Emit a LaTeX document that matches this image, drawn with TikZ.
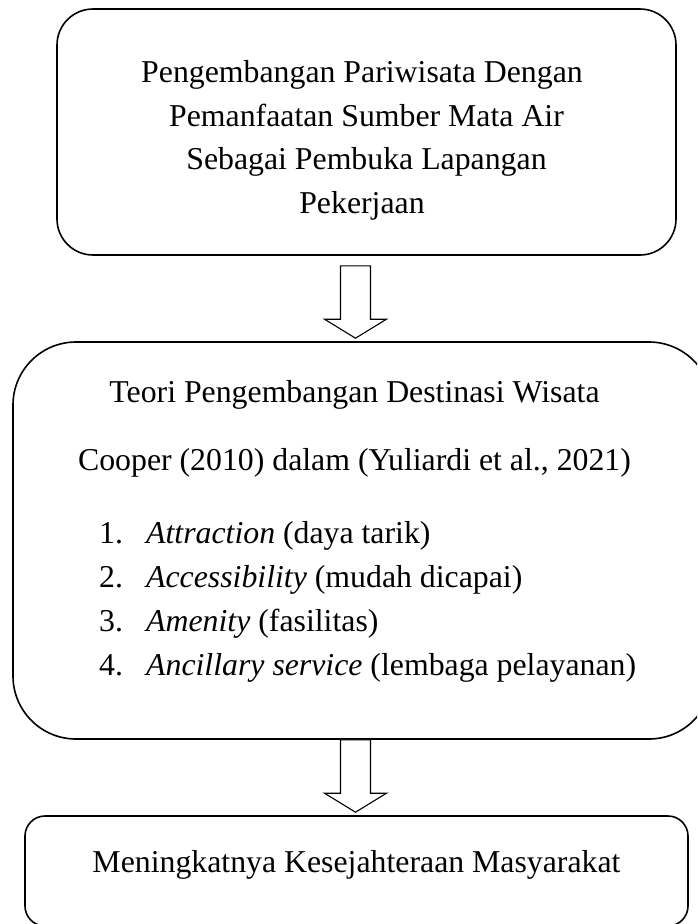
\documentclass[tikz,border=0pt]{standalone}
\usepackage{fontspec}
\setmainfont{Liberation Serif}
\usetikzlibrary{positioning,calc}

\begin{document}
\begin{tikzpicture}[x=1pt, y=-1pt,
  kotak/.style={draw=black, line width=1.6pt, align=center, inner sep=0pt,
                font=\fontsize{31.8}{43.5}\selectfont},
  daftar/.style={align=left, inner sep=0pt, font=\fontsize{31.8}{44}\selectfont},
  blokpanah/.style={draw=black, line width=1.1pt, fill=white, to path={
    let \p1=(\tikztostart), \p2=(\tikztotarget) in
    (\x1-15pt,\y1) -- (\x1-15pt,\y2+19pt) -- (\x1-31pt,\y2+19pt) -- (\x1,\y2)
    -- (\x1+31pt,\y2+19pt) -- (\x1+15pt,\y2+19pt) -- (\x1+15pt,\y1) -- cycle}}]
  \clip (0,0) rectangle (697,924);
  \node[kotak, minimum width=619pt, rounded corners=36pt,
        text height=204pt, text depth=42pt] (awal) at (366.5,132)
    {Pengembangan Pariwisata Dengan\hspace*{9pt}\\%
     \ignorespaces Pemanfaatan Sumber Mata Air\hspace*{9pt}\\%
     \ignorespaces Sebagai Pembuka Lapangan\hspace*{9pt}\\%
     \ignorespaces Pekerjaan\hspace*{9pt}};
  \node[kotak, minimum width=699pt, rounded corners=63pt,
        text height=128pt, text depth=269pt] (teori) at (362.5,540.5)
    {Teori Pengembangan Destinasi Wisata\hspace*{16pt}\\[24.5pt]%
     \ignorespaces Cooper (2010) dalam (Yuliardi et al., 2021)\hspace*{16pt}};
  \node[daftar, anchor=base west] (unsur) at (99,675)
    {\makebox[47pt][l]{1.}\textit{Attraction} (daya tarik)\\
     \makebox[47pt][l]{2.}\textit{Accessibility} (mudah dicapai)\\
     \makebox[47pt][l]{3.}\textit{Amenity} (fasilitas)\\
     \makebox[47pt][l]{4.}\textit{Ancillary service} (lembaga pelayanan)};
  \node[kotak, minimum width=663pt, rounded corners=20pt,
        text height=56pt, text depth=54pt] (hasil) at (356.5,871)
    {Meningkatnya Kesejahteraan Masyarakat};
  \coordinate (sumbu) at (355.5,0);
  \draw[blokpanah] ($(awal.south -| sumbu)+(0,10)$) to ($(teori.north -| sumbu)+(0,-3)$);
  \draw[blokpanah] (teori.south -| sumbu) to ($(hasil.north -| sumbu)+(0,-3)$);
\end{tikzpicture}
\end{document}
